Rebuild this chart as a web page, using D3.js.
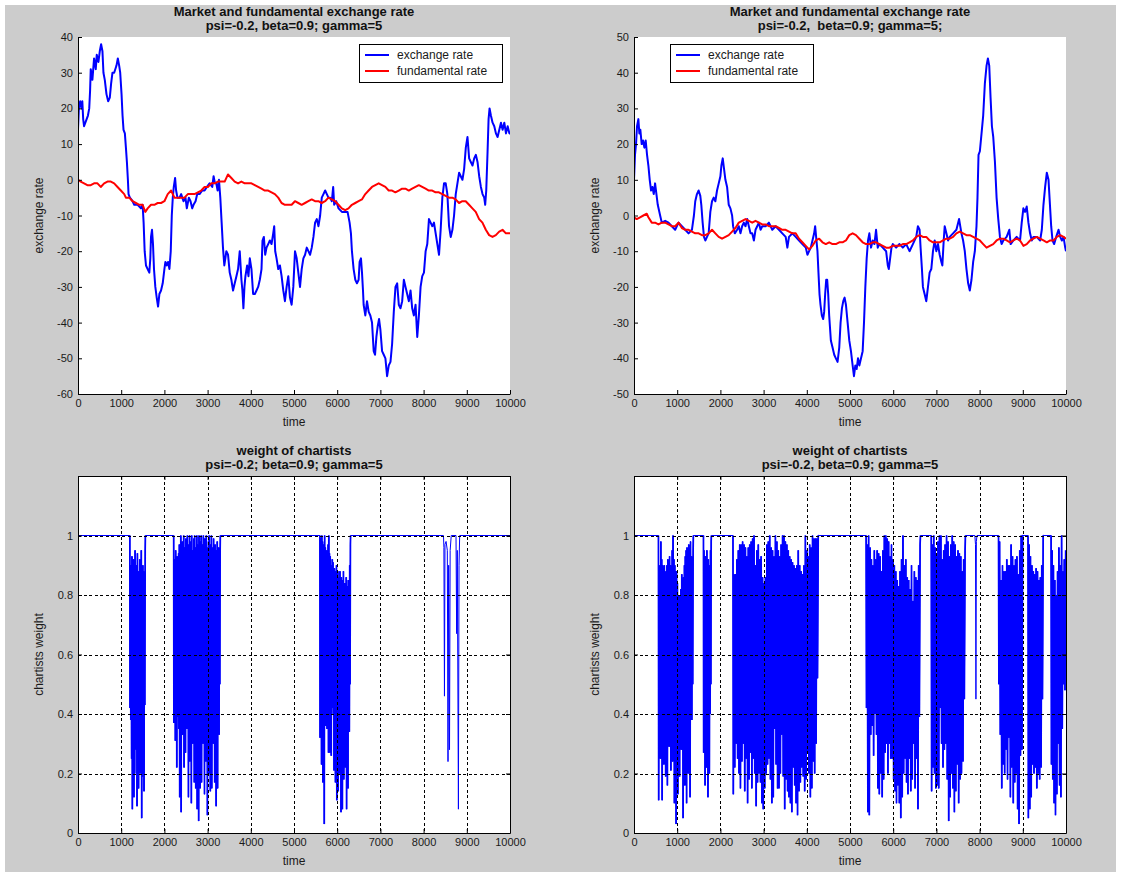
<!DOCTYPE html>
<html>
<head>
<meta charset="utf-8">
<script src="https://d3js.org/d3.v7.min.js"></script>
<style>
	body { margin: 0; background: #ffffff; }
	svg text { font-family: "Liberation Sans", Arial, sans-serif; }
</style>
</head>
<body>
<script>

// ---- top row: market (blue) and fundamental (red) exchange rate, [time, value]
const rateLeftMarket = [
	[0,14],[20,20],[50,22],[80,20],[100,22],[120,17],[140,15],[170,16],[200,17],[230,18],[260,20],[280,25],[295,31],[333,28],[372,34],[411,31],[434,35],[473,33],[504,36],[535,38],[566,36],[589,30],[620,28],[659,24],[698,22],[736,23],[767,27],[798,30],[837,30],[891,32],[922,34],[953,32],[977,30],
	[1008,24],[1031,18],[1054,14],[1085,13],[1109,9],[1132,5],[1155,0],[1170,-4],[1201,-5],[1264,-6],[1302,-7],[1380,-7],[1457,-8],[1496,-7],[1519,-12],[1543,-20],[1574,-24],[1612,-25],[1651,-26],[1674,-22],[1690,-16],[1713,-14],[1736,-18],[1759,-25],[1790,-30],[1822,-33],[1853,-35.5],[1884,-32],[1922,-31],[1961,-29],
	[2000,-25],[2023,-23],[2054,-24],[2085,-23],[2116,-25],[2147,-20],[2171,-10],[2194,-5],[2217,-2],[2248,0.5],[2271,-3],[2302,-5],[2349,-5],[2388,-4],[2442,-6],[2488,-5],[2519,-8],[2566,-5],[2605,-6],[2643,-8],[2674,-7],[2721,-6],[2760,-4],[2814,-4],[2876,-3],[2930,-3],[2984,-2],
	[3046,-1],[3108,-2],[3139,1],[3170,-1],[3201,-1],[3232,-3],[3263,0],[3294,-5],[3325,-12],[3356,-19],[3387,-24],[3411,-22],[3434,-20],[3473,-21],[3512,-26],[3550,-28],[3589,-31],[3628,-29],[3667,-27],[3705,-25],[3744,-20],[3783,-28],[3806,-31],[3829,-36],[3853,-30],[3876,-27],[3915,-24],[3946,-27],[3977,-22],
	[4015,-25],[4054,-32],[4093,-32],[4132,-31],[4170,-30],[4209,-28],[4248,-25],[4271,-17],[4302,-16],[4333,-21],[4364,-19],[4403,-18],[4441,-17],[4480,-18],[4519,-15],[4542,-13],[4565,-20],[4596,-22],[4635,-25],[4674,-24],[4713,-27],[4752,-31],[4790,-34],[4829,-30],[4868,-27],[4907,-33],[4945,-35],[4984,-30],
	[5023,-20],[5062,-22],[5100,-26],[5139,-30],[5178,-25],[5217,-22],[5256,-21],[5295,-19],[5333,-20],[5372,-21],[5411,-19],[5450,-16],[5488,-12],[5527,-11],[5566,-13],[5605,-10],[5643,-5],[5682,-4],[5721,-3],[5760,-4],[5798,-5],[5837,-5],[5876,-6],[5907,-2],[5930,-7],[5977,-6],
	[6031,-8],[6109,-9],[6186,-9],[6240,-9],[6287,-12],[6318,-15],[6341,-20],[6380,-25],[6419,-28],[6457,-29],[6496,-28],[6519,-23],[6550,-22],[6574,-26],[6597,-31],[6612,-35],[6651,-38],[6690,-34],[6729,-37],[6767,-38],[6806,-40],[6845,-48],[6876,-49],[6907,-44],[6938,-41],[6969,-39],
	[7000,-42],[7039,-48],[7078,-49],[7116,-50],[7155,-55],[7194,-52],[7233,-51],[7271,-46],[7310,-37],[7349,-30],[7388,-29],[7426,-35],[7465,-36],[7504,-34],[7543,-28],[7581,-30],[7620,-32],[7659,-34],[7698,-31],[7736,-36],[7775,-38],[7814,-35],[7853,-44],[7891,-38],[7930,-30],[7969,-27],
	[8008,-26],[8047,-20],[8085,-18],[8124,-11],[8163,-12],[8202,-13],[8240,-12],[8279,-15],[8318,-18],[8357,-21],[8395,-14],[8434,-5],[8473,-1],[8512,-1],[8550,-4],[8589,-13],[8628,-16],[8667,-14],[8705,-10],[8744,-4],[8783,-1],[8822,2],[8860,1],[8899,0],[8938,3],[8977,9],
	[9016,12],[9054,6],[9093,5],[9132,4],[9171,6],[9209,7],[9248,5],[9287,1],[9326,-2],[9364,-4],[9403,-5],[9426,-7],[9450,-3],[9481,8],[9504,17],[9527,20],[9558,18],[9597,16],[9636,15],[9674,13],[9713,12],[9752,14],[9791,16],[9829,14],[9868,16],[9907,13],[9946,15],[9985,13],[10000,13]
];
const rateLeftFundamental = [
	[0,0],[62,-0.5],[140,-1],[217,-1.5],[295,-1.5],[372,-1],[450,-1],[527,-2],[605,-1],[682,-0.5],[760,-0.5],[837,-1],[915,-2],[992,-3],[1070,-4],[1108,-5],[1186,-5],[1263,-6],[1341,-6.5],[1418,-7],[1496,-7],[1558,-9],[1612,-8],[1690,-7],[1767,-7],[1845,-6.5],[1922,-6.5],
	[2000,-6],[2077,-4],[2155,-3],[2232,-5],[2310,-5],[2387,-5],[2465,-5],[2542,-4],[2620,-4],[2697,-4],[2775,-3.5],[2852,-3],[2930,-2],[3007,-2],[3085,-1],[3162,-1],[3240,-0.5],[3317,-0.5],[3395,-0.5],[3472,1.5],[3550,0.5],[3627,-0.5],[3705,-1],[3782,-0.5],[3860,-1],[3937,-1],
	[4015,-1],[4092,-1.5],[4170,-2],[4247,-2.5],[4325,-3],[4402,-3],[4480,-3.5],[4557,-4],[4635,-5],[4712,-6.5],[4790,-7],[4867,-7],[4945,-7],[5022,-6],[5100,-6.5],[5177,-7],[5255,-6.5],[5332,-6],[5410,-5.5],[5487,-6],[5565,-6],[5642,-6.5],[5720,-6],[5797,-5],[5875,-5.5],[5952,-6],
	[6030,-7],[6107,-8],[6185,-8.5],[6262,-8],[6340,-7],[6417,-6.5],[6495,-6],[6572,-5.5],[6650,-4],[6727,-3],[6805,-2],[6882,-1.5],[6960,-1],[7037,-1.5],[7115,-2],[7192,-3],[7270,-3],[7347,-3.5],[7425,-3],[7502,-2.5],[7580,-2.5],[7657,-3],[7735,-2.5],[7812,-2],[7890,-1.5],[7967,-2],
	[8045,-2.5],[8122,-3],[8200,-3],[8277,-3.5],[8355,-3.5],[8432,-4],[8510,-4.5],[8587,-5],[8665,-5],[8742,-5.5],[8820,-6.5],[8897,-6],[8975,-6],[9052,-7],[9130,-8],[9207,-9],[9285,-11],[9362,-12],[9440,-14],[9517,-15.5],[9595,-16],[9672,-15.5],[9750,-14.5],[9827,-14],[9905,-15],[9982,-15],[10000,-15]
];
const rateRightMarket = [
	[0,10],[23,17],[47,20],[70,25],[101,27],[124,23],[147,24],[178,20],[209,21],[240,19],[271,21],[302,17],[333,14],[364,10],[395,7],[426,8],[457,6],[488,9],[519,6],[550,3],[605,0],[643,-2],[721,-1.5],[798,-2],[876,-3],[953,-4],
	[1031,-2],[1108,-3],[1186,-4],[1263,-5],[1341,-4],[1387,0],[1418,4],[1457,6],[1496,7],[1535,5.5],[1558,3],[1589,-2],[1620,-6],[1651,-7],[1690,-6],[1728,-5],[1767,1],[1806,4],[1845,5],[1883,4],[1922,7],[1961,9],
	[2000,11],[2023,14],[2054,16],[2085,13],[2116,10],[2155,8],[2193,3],[2232,2],[2271,0],[2294,-3],[2333,-5],[2387,-4],[2426,-3],[2465,-5],[2503,-3],[2542,-2],[2581,-3],[2620,-1],[2658,-3],[2697,-5],[2736,-5],[2775,-7],[2813,-4],[2852,-3],[2891,-2],[2930,-4],[2968,-3],
	[3046,-3],[3123,-2],[3201,-4],[3278,-3],[3356,-4],[3433,-5],[3511,-6],[3550,-9],[3588,-6],[3666,-5],[3743,-6],[3821,-7],[3898,-8],[3976,-9],[4015,-11],[4053,-10],[4092,-9],[4131,-7],[4170,-5],[4193,-3],[4216,-6],[4247,-10],[4270,-16],[4294,-22],[4317,-25],[4348,-28],[4379,-29],[4402,-27],[4425,-22],[4449,-18],[4472,-18],[4495,-22],
	[4518,-28],[4557,-35],[4596,-37],[4635,-39],[4673,-40],[4712,-41],[4751,-37],[4782,-30],[4813,-26],[4844,-24],[4875,-23],[4906,-25],[4945,-30],[4983,-35],[5022,-38],[5061,-42],[5092,-45],[5123,-42],[5154,-43],[5185,-40],[5216,-42],[5255,-40],[5293,-38],[5324,-30],[5355,-20],[5386,-12],[5417,-7],[5448,-5],
	[5487,-9],[5526,-7],[5565,-8],[5603,-4],[5642,-9],[5681,-8],[5758,-9],[5836,-10],[5875,-14],[5898,-15],[5929,-12],[5960,-9],[5991,-8],[6068,-9],[6146,-8],[6223,-9],[6301,-8],[6378,-10],[6456,-8],[6533,-6],[6572,-3],[6611,-4],[6634,-9],[6665,-15],[6688,-20],[6727,-22],[6766,-24],[6805,-20],[6843,-16],[6882,-15],[6921,-10],[6960,-7],
	[6998,-10],[7037,-8],[7076,-11],[7115,-13],[7138,-14],[7169,-7],[7192,-3],[7231,-5],[7270,-7],[7308,-6],[7386,-5],[7463,-4],[7525,-1],[7580,-5],[7618,-7],[7657,-10],[7696,-15],[7735,-19],[7773,-21],[7812,-18],[7851,-13],[7890,-10],[7928,-3],[7951,5],[7975,17],
	[8006,18],[8045,23],[8083,28],[8122,37],[8161,42],[8192,44],[8223,42],[8254,33],[8285,25],[8316,22],[8355,15],[8393,5],[8432,-1],[8471,-6],[8510,-8],[8548,-7],[8626,-6],[8688,-4],[8719,-8],[8781,-7],[8858,-6],[8936,-7],[8975,-2],
	[9013,2],[9052,1],[9091,2.5],[9130,-2],[9168,-5],[9207,-7],[9246,-6],[9323,-6],[9401,-7],[9440,-4],[9478,3],[9517,8],[9556,12],[9595,10],[9633,2],[9657,-3],[9688,-7],[9726,-8],[9773,-6],[9827,-4],[9866,-6],[9905,-7],[9943,-6],[9982,-9],[10000,-10]
];
const rateRightFundamental = [
	[0,-0.5],[62,-1],[140,-0.5],[217,0],[295,0.5],[333,-0.5],[411,-2],[488,-2],[566,-2.5],[643,-2],[721,-2],[798,-2.5],[876,-3],[953,-3],[1031,-2],[1108,-3.5],[1186,-4],[1263,-4],[1341,-4.5],[1418,-5],[1496,-5],[1573,-5.5],[1651,-5.5],[1728,-5],[1806,-4],[1883,-5],[1961,-6],
	[2038,-6.5],[2116,-6],[2193,-5.5],[2271,-4.5],[2348,-3.5],[2426,-2],[2503,-1.5],[2581,-1],[2658,-1.5],[2736,-2],[2813,-1.5],[2891,-2],[2968,-2.5],[3046,-2.5],[3123,-3],[3201,-3],[3278,-3],[3356,-3.5],[3433,-4],[3511,-4],[3588,-4.5],[3666,-5],[3743,-5],[3821,-6.5],[3898,-7.5],[3976,-8.5],
	[4053,-9.5],[4131,-8.5],[4208,-7],[4286,-6.5],[4363,-7.5],[4441,-8],[4518,-7.5],[4596,-8],[4673,-8],[4751,-7.5],[4828,-7.5],[4906,-7],[4983,-5.5],[5061,-5],[5138,-5.5],[5216,-6.5],[5293,-7.5],[5371,-8],[5448,-8],[5526,-7.5],[5603,-7.5],[5681,-8],[5758,-8.5],[5836,-9],[5913,-9],[5991,-8.5],
	[6068,-8.5],[6146,-8.5],[6223,-8],[6301,-8],[6378,-7.5],[6456,-7],[6533,-6],[6611,-5.5],[6688,-6],[6766,-6],[6843,-7],[6921,-7.5],[6998,-7.5],[7076,-7.5],[7153,-7],[7231,-6.5],[7308,-6.5],[7386,-6],[7463,-5],[7541,-4.5],[7618,-5],[7696,-5.5],[7773,-5.5],[7851,-6],[7928,-6.5],
	[8006,-7],[8083,-8],[8161,-9],[8238,-8.5],[8316,-8],[8393,-7],[8471,-6.5],[8548,-6.5],[8626,-7],[8703,-7.5],[8781,-7],[8858,-6.5],[8936,-7],[9013,-8.5],[9091,-8],[9168,-7],[9246,-6.5],[9323,-6],[9401,-6.5],[9478,-7],[9556,-7.5],[9633,-7],[9711,-7],[9788,-6],[9866,-5.5],[9943,-6],[10000,-6.5]
];

// ---- bottom row: weight of chartists. Calm stretches sit at 1; turbulent bursts
// are listed as [start, end] with the successive troughs (low) and crests (high) read in each.
const weightStart = [[0, 0], [8, 1]];

const weightLeftSpan = [[1200, 1560], [2215, 3295], [5600, 6310]];
const weightLeftLow = [
	[0.42,0.38,0.25,0.08,0.4,0.12,0.2,0.35,0.28,0.09,0.4,0.15,0.3,0.2,0.36,0.05,0.19,0.3,0.14,0.43],
	[0.37,0.45,0.31,0.4,0.22,0.42,0.39,0.35,0.12,0.4,0.07,0.38,0.33,0.45,0.22,0.4,0.27,0.36,0.35,0.42,0.12,0.38,0.24,0.4,0.1,0.35,0.3,0.42,0.17,0.38,0.15,0.4,
	 0.08,0.36,0.04,0.4,0.15,0.38,0.17,0.42,0.3,0.4,0.13,0.36,0.24,0.4,0.06,0.38,0.2,0.42,0.14,0.36,0.15,0.4,0.3,0.45,0.17,0.38,0.09,0.4,0.15,0.45,0.33,0.5],
	[0.32,0.45,0.23,0.4,0.17,0.42,0.03,0.4,0.36,0.45,0.35,0.42,0.27,0.4,0.27,0.38,0.26,0.42,0.58,0.4,0.21,0.38,0.17,0.4,0.11,0.36,0.14,0.4,0.2,0.38,0.07,0.36,
	 0.08,0.4,0.18,0.38,0.22,0.4,0.08,0.36,0.15,0.4,0.34,0.5]
];
const weightLeftHigh = [
	[0.9,0.8,0.93,0.85,0.92,0.8,0.95,0.85,0.9,0.94,0.88,0.7,0.92,0.88,0.95,0.85,0.9,0.88,0.85,0.95],
	[0.92,0.9,0.95,0.91,0.93,0.9,0.94,0.97,0.92,1,0.95,0.98,0.93,1,0.96,0.92,0.99,0.95,1,0.93,0.97,1,0.94,0.98,1,0.95,0.92,0.99,1,0.96,0.93,1,
	 0.97,0.95,1,0.92,0.98,1,0.94,0.97,1,0.95,0.99,0.93,1,0.96,0.92,0.98,1,0.95,0.97,1,0.93,0.96,0.99,0.94,0.97,0.92,0.95,0.98,0.93,0.96,0.9,0.95],
	[0.99,0.97,1,0.98,0.97,0.95,1,0.96,0.93,0.95,0.9,0.97,1,0.94,0.93,0.9,0.88,0.92,0.91,0.87,0.89,0.86,0.88,0.9,0.85,0.88,0.84,0.86,0.88,0.84,0.86,0.82,
	 0.85,0.88,0.8,0.84,0.82,0.86,0.8,0.83,0.85,0.8,0.9,0.97]
];
const weightLeftSpikes = [
	[8460,1],[8470,0.96],[8483,0.46],[8495,0.97],[8520,0.98],[8549,0.95],[8565,0.24],[8580,0.9],[8600,0.28],[8615,0.95],[8640,1],
	[8750,1],[8765,0.67],[8780,0.95],[8806,0.08],[8820,0.9],[8835,1],[10000,1]
];

const weightRightSpan = [[566, 1374], [1608, 1791], [2291, 4273], [5373, 6631], [6881, 7672], [8438, 9005], [9121, 9480], [9655, 10000]];
const weightRightLow = [
	[0.11,0.42,0.25,0.38,0.11,0.4,0.23,0.36,0.19,0.42,0.16,0.38,0.29,0.4,0.21,0.36,0.24,0.4,0.1,0.38,0.03,0.4,0.13,0.36,0.19,0.42,0.28,0.38,0.05,0.4,0.16,0.36,0.1,0.4,0.2,0.38,0.12,0.42,0.38,0.5],
	[0.27,0.4,0.16,0.38,0.22,0.42,0.12,0.36,0.2,0.4,0.5],
	[0.13,0.22,0.3,0.25,0.2,0.15,0.24,0.3,0.14,0.25,0.1,0.18,0.27,0.15,0.25,0.2,0.09,0.17,0.2,0.17,0.1,0.08,0.15,0.2,0.23,0.25,0.18,0.1,0.12,0.35,
	 0.23,0.15,0.15,0.2,0.33,0.19,0.08,0.18,0.14,0.12,0.1,0.07,0.22,0.16,0.1,0.06,0.14,0.17,0.22,0.19,0.14,0.18,0.27,0.2,0.12,0.15,0.24,0.2,0.3,0.52],
	[0.42,0.07,0.06,0.33,0.36,0.26,0.4,0.33,0.15,0.13,0.2,0.12,0.18,0.27,0.3,0.2,0.3,0.25,0.25,0.18,0.14,0.1,0.16,0.1,0.05,0.12,0.2,0.25,0.17,0.13,0.25,0.14,0.18,0.3,0.15,0.25,0.08,0.39],
	[0.14,0.22,0.2,0.15,0.16,0.15,0.42,0.3,0.22,0.28,0.3,0.18,0.04,0.12,0.2,0.15,0.07,0.14,0.23,0.1,0.18,0.2,0.24,0.45],
	[0.5,0.33,0.15,0.23,0.2,0.28,0.18,0.32,0.12,0.22,0.1,0.17,0.2,0.08,0.03,0.26,0.28],
	[0.05,0.08,0.12,0.23,0.2,0.22,0.15,0.2,0.18,0.22,0.45],
	[0.23,0.18,0.1,0.06,0.13,0.3,0.16,0.12,0.35,0.5,0.48]
];
const weightRightHigh = [
	[0.87,0.9,0.98,0.92,0.9,0.88,0.9,0.86,0.88,0.9,0.92,0.89,0.93,0.9,0.88,0.95,1,0.92,0.9,0.88,0.88,0.84,0.78,0.8,0.68,0.82,0.87,0.85,0.86,0.9,0.93,0.95,0.96,0.94,0.97,0.95,0.98,0.93,0.9,0.95],
	[0.95,0.9,0.93,0.88,0.95,0.9,0.92,0.87,0.9,0.95,0.98],
	[0.87,0.87,0.92,0.95,0.97,0.97,0.98,0.97,0.96,0.93,0.96,0.97,0.98,0.99,1,0.9,0.95,0.97,0.92,0.93,0.86,0.84,0.86,0.97,0.98,1,0.96,0.95,0.93,1,
	 0.98,0.95,0.93,0.97,1,1,0.98,0.97,0.95,0.93,0.92,0.91,0.9,0.89,0.9,0.95,0.9,0.88,0.87,0.9,1,0.95,0.93,0.97,0.96,1,0.99,0.99,0.99,1],
	[0.97,1,0.96,0.92,0.9,0.95,0.92,0.95,0.94,0.93,0.88,0.95,1,1,0.99,0.98,0.93,0.97,0.92,0.9,0.88,0.85,0.83,0.88,0.92,1,0.9,0.92,0.86,0.85,0.82,0.9,0.78,0.88,0.86,0.85,0.9,0.97],
	[0.97,1,0.96,0.93,0.98,1,1,0.92,0.95,0.97,1,0.98,0.93,0.97,1,0.98,0.97,0.93,0.95,0.94,0.93,0.88,0.92,0.95],
	[0.98,0.85,0.9,0.88,0.88,0.92,0.9,0.9,0.97,0.93,0.9,0.92,0.93,0.87,0.95,1,1],
	[0.97,0.93,0.9,0.88,0.87,0.89,0.88,0.85,0.86,0.9,1],
	[0.95,0.9,0.85,0.8,0.88,0.96,0.9,1,0.88,0.92,0.95]
];
const weightRightSpikes = [[7890,1],[7905,0.97],[7915,0.45],[7925,0.98],[7940,1]];

// ---- axes, ticks, texts
const timeTicks = [0,1000,2000,3000,4000,5000,6000,7000,8000,9000,10000];
const timeGrid = [1000,2000,3000,4000,5000,6000,7000,8000,9000];
const rateLeftTicks = [-60,-50,-40,-30,-20,-10,0,10,20,30,40];
const rateRightTicks = [-50,-40,-30,-20,-10,0,10,20,30,40,50];
const weightTicks = [0,0.2,0.4,0.6,0.8,1];
const weightGrid = [0.2,0.4,0.6,0.8,1];
const legendLabels = ["exchange rate", "fundamental rate"];
const legendColors = ["#0000ff", "#ff0000"];

const svg = d3.select("body").append("svg")
	.attr("width", 1123)
	.attr("height", 877);

svg.append("rect")
	.attr("x", 5).attr("y", 5)
	.attr("width", 1111).attr("height", 867)
	.attr("fill", "#cccccc");

function makePanel(id, box, yDomain) {
	var x = d3.scaleLinear().domain([0, 10000]).range([box.left, box.right]);
	var y = d3.scaleLinear().domain(yDomain).range([box.bottom, box.top]);
	var g = svg.append("g").attr("class", "panel-" + id);
	g.append("rect")
		.attr("x", box.left).attr("y", box.top)
		.attr("width", box.right - box.left).attr("height", box.bottom - box.top)
		.attr("fill", "#ffffff");
	svg.append("clipPath").attr("id", "clip-" + id)
		.append("rect")
		.attr("x", box.left).attr("y", box.top)
		.attr("width", box.right - box.left).attr("height", box.bottom - box.top);
	var plot = g.append("g").attr("clip-path", "url(#clip-" + id + ")");
	return { g: g, plot: plot, x: x, y: y, box: box };
}

function styleAxis(sel) {
	sel.attr("font-size", 11)
		.attr("font-family", null)
		.attr("color", "#000");
	sel.selectAll("text").attr("fill", "#1a1a1a");
}

function drawAxes(p, yTicks, boxed) {
	var fmt = d => String(d);
	p.g.append("g")
		.attr("transform", "translate(0," + p.box.bottom + ")")
		.call(d3.axisBottom(p.x).tickValues(timeTicks).tickFormat(fmt).tickSizeInner(-4).tickSizeOuter(0).tickPadding(5))
		.call(styleAxis);
	p.g.append("g")
		.attr("transform", "translate(" + p.box.left + ",0)")
		.call(d3.axisLeft(p.y).tickValues(yTicks).tickFormat(fmt).tickSizeInner(-4).tickSizeOuter(0).tickPadding(5))
		.call(styleAxis);
	if (boxed) {
		p.g.append("g")
			.attr("transform", "translate(0," + p.box.top + ")")
			.call(d3.axisTop(p.x).tickValues(timeTicks).tickFormat("").tickSizeInner(-4).tickSizeOuter(0))
			.call(styleAxis);
		p.g.append("g")
			.attr("transform", "translate(" + p.box.right + ",0)")
			.call(d3.axisRight(p.y).tickValues(yTicks).tickFormat("").tickSizeInner(-4).tickSizeOuter(0))
			.call(styleAxis);
	}
}

function drawGrid(p) {
	var grid = p.g.append("g")
		.attr("stroke", "#000")
		.attr("stroke-width", 1)
		.attr("stroke-dasharray", "3,2.5")
		.attr("shape-rendering", "crispEdges");
	grid.selectAll(".vgrid").data(timeGrid).enter().append("line")
		.attr("x1", d => Math.round(p.x(d)) + 0.5).attr("x2", d => Math.round(p.x(d)) + 0.5)
		.attr("y1", p.box.top).attr("y2", p.box.bottom);
	grid.selectAll(".hgrid").data(weightGrid).enter().append("line")
		.attr("y1", d => Math.round(p.y(d)) + 0.5).attr("y2", d => Math.round(p.y(d)) + 0.5)
		.attr("x1", p.box.left).attr("x2", p.box.right);
}

function drawTexts(p, title1, title2, yLabel) {
	var cx = (p.box.left + p.box.right) / 2;
	var title = p.g.append("text")
		.attr("text-anchor", "middle")
		.attr("font-size", 13)
		.attr("font-weight", "bold")
		.attr("fill", "#111")
		.style("white-space", "pre");
	title.append("tspan").attr("x", cx).attr("y", p.box.top - 21).text(title1);
	title.append("tspan").attr("x", cx).attr("y", p.box.top - 7).text(title2);

	p.g.append("text")
		.attr("x", cx).attr("y", p.box.bottom + 32)
		.attr("text-anchor", "middle")
		.attr("font-size", 12)
		.attr("fill", "#1a1a1a")
		.text("time");

	p.g.append("text")
		.attr("transform", "translate(" + (p.box.left - 35) + "," + ((p.box.top + p.box.bottom) / 2) + ") rotate(-90)")
		.attr("text-anchor", "middle")
		.attr("font-size", 12)
		.attr("fill", "#1a1a1a")
		.text(yLabel);
}

function drawLegend(p, left, top) {
	var lg = p.g.append("g").attr("transform", "translate(" + left + "," + top + ")");
	lg.append("rect")
		.attr("x", 0.5).attr("y", 0.5)
		.attr("width", 143).attr("height", 38)
		.attr("fill", "#ffffff")
		.attr("stroke", "#000");
	var rows = lg.selectAll(".row").data(legendLabels).enter().append("g")
		.attr("transform", (d, i) => "translate(0," + (11 + i * 16) + ")");
	rows.append("line")
		.attr("x1", 6).attr("x2", 30)
		.attr("stroke", (d, i) => legendColors[i])
		.attr("stroke-width", 2);
	rows.append("text")
		.attr("x", 38).attr("y", 4)
		.attr("font-size", 12)
		.attr("fill", "#1a1a1a")
		.text(d => d);
}

// one point list per burst: from the calm level into the troughs and crests and back
function burstPoints(span, lows, highs) {
	var n = Math.min(lows.length, highs.length);
	var step = (span[1] - span[0]) / n;
	var pts = [[span[0], 1]];
	for (var i = 0; i < n; i++) {
		pts.push([span[0] + (i + 0.25) * step, lows[i]]);
		pts.push([span[0] + (i + 0.75) * step, highs[i]]);
	}
	if (span[1] < 10000) pts.push([span[1], 1]);
	return pts;
}

function buildWeight(spans, lows, highs, spikes) {
	var pts = weightStart.slice();
	spans.forEach((s, k) => { pts = pts.concat(burstPoints(s, lows[k], highs[k])); });
	spikes.forEach(d => pts.push(d));
	pts.sort((a, b) => a[0] - b[0]);
	return pts;
}

// ---- top panels
var tl = makePanel("tl", { left: 78, right: 510, top: 37, bottom: 394 }, [-60, 40]);
var tr = makePanel("tr", { left: 634, right: 1066, top: 37, bottom: 394 }, [-50, 50]);

[[tl, rateLeftMarket, rateLeftFundamental], [tr, rateRightMarket, rateRightFundamental]].forEach(function(c) {
	var p = c[0];
	var line = d3.line().x(d => p.x(d[0])).y(d => p.y(d[1]));
	p.plot.append("path").datum(c[1])
		.attr("d", line).attr("fill", "none")
		.attr("stroke", legendColors[0]).attr("stroke-width", 2)
		.attr("stroke-linejoin", "round");
	p.plot.append("path").datum(c[2])
		.attr("d", line).attr("fill", "none")
		.attr("stroke", legendColors[1]).attr("stroke-width", 2)
		.attr("stroke-linejoin", "round");
});

drawAxes(tl, rateLeftTicks, false);
drawAxes(tr, rateRightTicks, false);
drawTexts(tl, "Market and fundamental exchange rate", "psi=-0.2, beta=0.9; gamma=5", "exchange rate");
drawTexts(tr, "Market and fundamental exchange rate", "psi=-0.2,  beta=0.9; gamma=5;", "exchange rate");
drawLegend(tl, 359, 44);
drawLegend(tr, 670, 44);

// ---- bottom panels
var bl = makePanel("bl", { left: 78, right: 510, top: 476, bottom: 833 }, [0, 1.2]);
var br = makePanel("br", { left: 634, right: 1066, top: 476, bottom: 833 }, [0, 1.2]);

[[bl, weightLeftSpan, weightLeftLow, weightLeftHigh, weightLeftSpikes],
 [br, weightRightSpan, weightRightLow, weightRightHigh, weightRightSpikes]].forEach(function(c) {
	var p = c[0];
	var line = d3.line().x(d => p.x(d[0])).y(d => p.y(d[1]));
	p.plot.append("path").datum(buildWeight(c[1], c[2], c[3], c[4]))
		.attr("d", line).attr("fill", "none")
		.attr("stroke", "#0000ff").attr("stroke-width", 1);
	// the bursts are so dense in the original that they read as solid blue
	p.plot.selectAll(".burst").data(c[1]).enter().append("path")
		.attr("class", "burst")
		.attr("d", (s, k) => line(burstPoints(s, c[2][k], c[3][k])))
		.attr("fill", "none")
		.attr("stroke", "#0000ff")
		.attr("stroke-width", 1.7)
		.attr("stroke-linejoin", "bevel");
	drawGrid(p);
});

drawAxes(bl, weightTicks, true);
drawAxes(br, weightTicks, true);
drawTexts(bl, "weight of chartists", "psi=-0.2; beta=0.9; gamma=5", "chartists weight");
drawTexts(br, "weight of chartists", "psi=-0.2, beta=0.9; gamma=5", "chartists weight");

</script>
</body>
</html>
